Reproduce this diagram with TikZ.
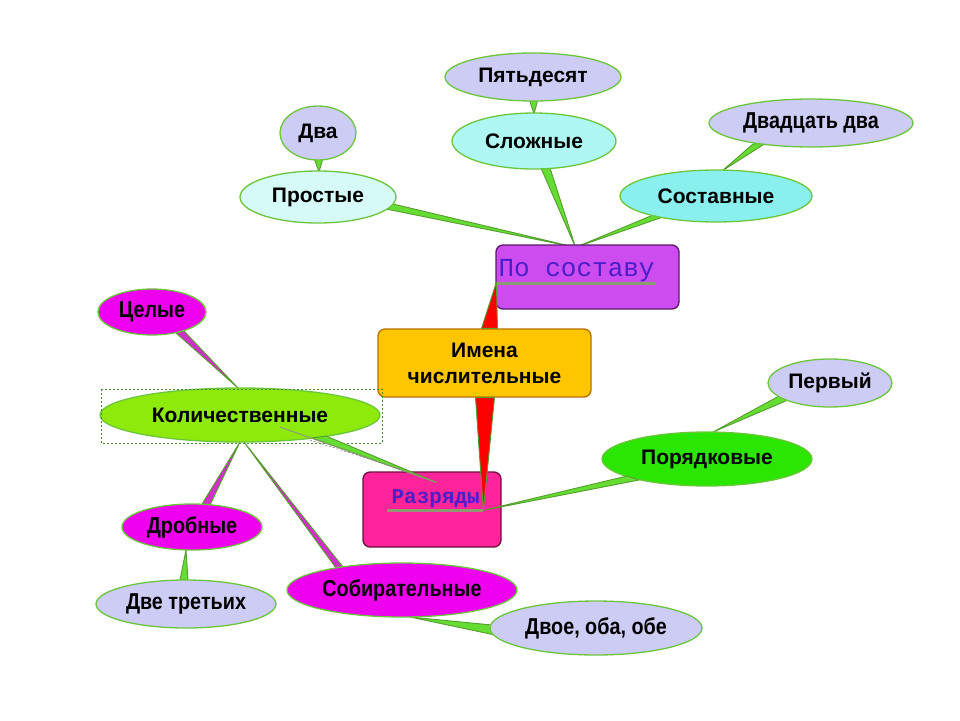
\documentclass[tikz,border=0pt]{standalone}
\usepackage{fontspec}
\usepackage{graphicx}
\setmainfont{Liberation Sans}
\newfontfamily\monof{Liberation Mono}
\usetikzlibrary{shapes.geometric,calc,backgrounds}
\definecolor{edgeg}{HTML}{6CC63C}
\definecolor{wedgeF}{HTML}{66DD33}
\definecolor{wedgeE}{HTML}{559E2E}
\definecolor{wedgeM}{HTML}{D030C8}
\definecolor{lav}{HTML}{CCCCF4}
\definecolor{cyanA}{HTML}{D6FAF7}
\definecolor{cyanB}{HTML}{AEF7F2}
\definecolor{cyanC}{HTML}{8AF0EE}
\definecolor{magE}{HTML}{EE00EE}
\definecolor{limeK}{HTML}{8EEA0A}
\definecolor{greenP}{HTML}{2AE600}
\definecolor{purpleR}{HTML}{CC4CF0}
\definecolor{purpleE}{HTML}{5A1A6A}
\definecolor{orangeI}{HTML}{FFC600}
\definecolor{orangeE}{HTML}{B87000}
\definecolor{pinkR}{HTML}{FF2499}
\definecolor{pinkE}{HTML}{6A1040}
\definecolor{textblue}{HTML}{4A1EC8}
\definecolor{ulinec}{HTML}{8C9C70}
\newcommand\nar[1]{\scalebox{0.86}[1]{#1}}
\newcommand\wedgeC[4][wedgeF]{\filldraw[wedgeline, fill=#1] #2 -- #3 -- #4 -- cycle;}
\begin{document}
\begin{tikzpicture}[x=1pt,y=-1pt,
  bub/.style={ellipse, draw=edgeg, line width=1.3pt, inner sep=0pt,
    font=\fontsize{21}{23}\selectfont\bfseries},
  nbub/.style={bub, font=\fontsize{23}{25}\selectfont\bfseries},
  rbox/.style={rectangle, rounded corners=7pt, line width=1.3pt, inner sep=0pt},
  wedgeline/.style={draw=wedgeE, line width=0.9pt, line join=round},
  uline/.style={draw=ulinec, line width=3pt},
  selbox/.style={draw=edgeg!70!black, line width=0.6pt, dash pattern=on 2pt off 2pt}]
\useasboundingbox (0,0) rectangle (960,720);

% ---- nodes ----
\node[bub, fill=lav, minimum width=176pt, minimum height=48pt] (p50) at (533,77) {Пятьдесят};
\node[bub, fill=cyanB, minimum width=164pt, minimum height=56pt] (slozh) at (534,141) {Сложные};
\node[bub, fill=lav, minimum width=76pt, minimum height=54pt] (dva) at (318,133) {Два};
\node[bub, fill=cyanA, minimum width=156pt, minimum height=52pt] (prost) at (318,197) {Простые};
\node[bub, fill=cyanC, minimum width=192pt, minimum height=52pt] (sostav) at (716,196) {Составные};
\node[nbub, fill=lav, minimum width=204pt, minimum height=48pt] (d22) at (811,123) {\nar{Двадцать два}};

\node[rbox, fill=purpleR, draw=purpleE, minimum width=183pt, minimum height=64pt] (posost) at (587.5,277) {};
\node[rbox, fill=orangeI, draw=orangeE, minimum width=213pt, minimum height=68pt, align=center,
  font=\fontsize{21}{26}\selectfont\bfseries] (imena) at (484.5,363) {Имена\\числительные};
\node[rbox, fill=pinkR, draw=pinkE, minimum width=138pt, minimum height=75pt] (razr) at (432,509.5) {};

\node[nbub, fill=magE, minimum width=108pt, minimum height=46pt] (cel) at (152,312) {\nar{Целые}};
\node[bub, fill=limeK, minimum width=280pt, minimum height=54pt] (kol) at (240,415) {Количественные};
\node[nbub, fill=magE, minimum width=140pt, minimum height=46pt] (drob) at (192,527) {\nar{Дробные}};
\node[nbub, fill=lav, minimum width=180pt, minimum height=48pt] (dvetr) at (186,604) {\nar{Две третьих}};
\node[nbub, fill=magE, minimum width=230pt, minimum height=54pt] (sobir) at (402,590) {\nar{Собирательные}};
\node[nbub, fill=lav, minimum width=212pt, minimum height=54pt] (dvoe) at (596,628) {\nar{Двое, оба, обе}};
\node[bub, fill=greenP, minimum width=210pt, minimum height=54pt] (poryad) at (707,459) {Порядковые};
\node[bub, fill=lav, minimum width=124pt, minimum height=48pt] (perv) at (830,383) {Первый};

% selection frame around Количественные
\draw[selbox] ($(kol)+(-139,-26)$) rectangle ($(kol)+(142,28)$);

% ---- connectors behind the shapes ----
\begin{scope}[on background layer]
\fill[white] (0,0) rectangle (960,720);
\wedgeC{($(p50)+(-4,22)$)}{($(p50)+(5,22)$)}{($(slozh)+(0,-27)$)}
\wedgeC{($(dva)+(-4,25)$)}{($(dva)+(5,25)$)}{($(prost)+(1,-25)$)}
\wedgeC{($(d22)+(-58,21)$)}{($(d22)+(-45,20)$)}{($(sostav)+(6,-25)$)}
\wedgeC{($(prost)+(68,12)$)}{($(prost)+(75,7)$)}{($(posost.north)+(-12,3)$)}
\wedgeC{($(slozh)+(7,27)$)}{($(slozh)+(16,27)$)}{($(posost.north)+(-12,3)$)}
\wedgeC{($(sostav)+(-63,19)$)}{($(sostav)+(-53,21)$)}{($(posost.north)+(-12,3)$)}
\wedgeC{($(perv)+(-51,13)$)}{($(perv)+(-42,17)$)}{($(poryad)+(6,-27)$)}
\wedgeC[wedgeM]{($(cel)+(24,21)$)}{($(cel)+(32,19)$)}{($(kol)+(-2,-27)$)}
\wedgeC[wedgeM]{($(drob)+(10,-23)$)}{($(drob)+(18,-22)$)}{($(kol)+(0,27)$)}
\wedgeC[wedgeM]{($(sobir)+(-66,-22)$)}{($(sobir)+(-59,-23)$)}{($(kol)+(4,27)$)}
\wedgeC{($(dvetr)+(-6,-24)$)}{($(dvetr)+(2,-24)$)}{($(drob)+(-6,23)$)}
\wedgeC{($(dvoe)+(-104,-3)$)}{($(dvoe)+(-101,7)$)}{($(sobir)+(8,27)$)}
\end{scope}

% ---- texts in the boxes ----
\node[anchor=base west, inner sep=0pt, text=textblue, font=\monof\fontsize{26}{26}\selectfont] (posostT)
  at ($(posost.north west)+(3,32)$) {По составу};
\draw[uline] ($(posost.north west)+(0,39)$) -- ($(posost.north west)+(161,39)$);
\node[anchor=base west, inner sep=0pt, text=textblue, font=\monof\bfseries\fontsize{21}{21}\selectfont] (razrT)
  at ($(razr.north west)+(29,32)$) {Разряды};
\draw[uline] ($(razr.north west)+(25,39)$) -- ($(razr.north west)+(121,39)$);

% ---- connectors on top ----
\wedgeC[red]{($(imena.north)+(-3,0)$)}{($(imena.north)+(13,0)$)}{($(posost.north west)+(1,38)$)}
\wedgeC[red]{($(imena.south)+(-9,0)$)}{($(imena.south)+(10,0)$)}{($(razr.north west)+(121,39)$)}
\wedgeC{($(poryad)+(-80,17)$)}{($(poryad)+(-68,21)$)}{($(razr.north west)+(121,39)$)}
\wedgeC{($(kol)+(72,23)$)}{($(kol)+(86,21)$)}{($(razr.north west)+(74,11)$)}
\draw[draw=ulinec, line width=1pt] ($(kol)+(40,12)$) -- ($(razr.north west)+(74,11)$);
\draw[draw=gray, line width=0.6pt, dash pattern=on 2pt off 2pt] ($(kol)+(70,25)$) -- ($(razr.north west)+(39,-2)$);
\end{tikzpicture}
\end{document}
